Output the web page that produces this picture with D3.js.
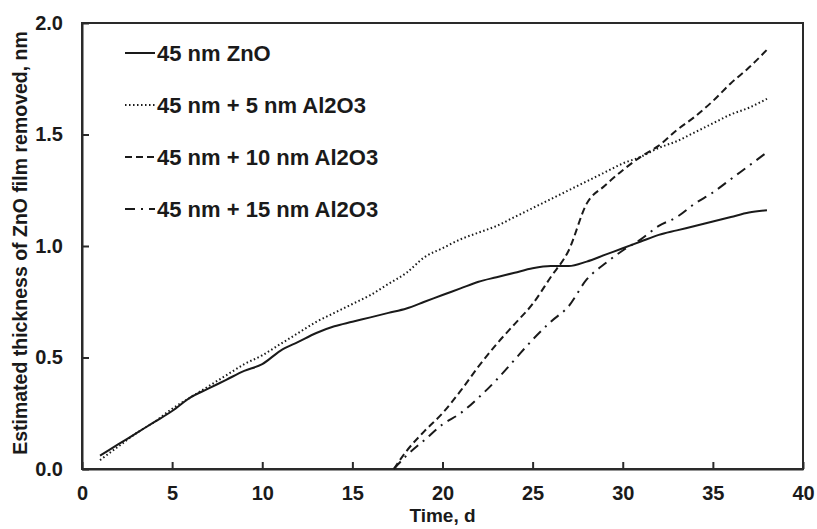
<!DOCTYPE html>
<html lang="en">
<head>
    <title>ZnO film removed</title>
    <script src="https://d3js.org/d3.v7.min.js"></script>
    <style>
        body { margin: 0; background: #fff; }
        text { font-family: "Liberation Sans", Arial, sans-serif; font-weight: bold; fill: #1a1a1a; }
        .axis path, .axis line { stroke: #2a2a2a; stroke-width: 2; }
        .axis text { font-size: 20px; }
        .series { fill: none; stroke: #1a1a1a; stroke-width: 2; }
    </style>
</head>
<body>

<script>
    // days and thickness removed (nm)
    const daysZnO = d3.range(1, 39);
    const znO = [0.06,0.11,0.16,0.21,0.26,0.32,0.36,0.40,0.44,0.47,0.53,0.57,0.61,0.64,0.66,0.68,0.70,0.72,0.75,0.78,
                 0.81,0.84,0.86,0.88,0.90,0.91,0.91,0.93,0.96,0.99,1.02,1.05,1.07,1.09,1.11,1.13,1.15,1.16];
    const al5 = [0.04,0.10,0.16,0.21,0.27,0.32,0.37,0.42,0.47,0.51,0.56,0.61,0.66,0.70,0.74,0.78,0.83,0.88,0.95,0.99,
                 1.03,1.06,1.09,1.13,1.17,1.21,1.25,1.29,1.33,1.37,1.40,1.44,1.47,1.51,1.55,1.59,1.62,1.66];
    const daysLate = [17.3,18,19,20,21,22,23,24,25,26,27,28,29,30,31,32,33,34,35,36,37,38];
    const al10 = [0.0,0.08,0.17,0.25,0.35,0.46,0.56,0.65,0.74,0.86,0.98,1.19,1.27,1.34,1.40,1.45,1.52,1.58,1.65,1.73,1.80,1.88];
    const al15 = [0.0,0.06,0.13,0.20,0.25,0.32,0.40,0.49,0.58,0.66,0.73,0.85,0.92,0.98,1.03,1.09,1.13,1.19,1.24,1.30,1.36,1.42];

    const seriesNames = ["45 nm ZnO", "45 nm + 5 nm Al2O3", "45 nm + 10 nm Al2O3", "45 nm + 15 nm Al2O3"];
    const dashes = [null, "1.5,2.5", "7,4", "10,6,2,6"];
    const xTicks = d3.range(0, 41, 5);
    const yTicks = [0, 0.5, 1.0, 1.5, 2.0];

    const series = [
        daysZnO.map((d, i) => [d, znO[i]]),
        daysZnO.map((d, i) => [d, al5[i]]),
        daysLate.map((d, i) => [d, al10[i]]),
        daysLate.map((d, i) => [d, al15[i]])
    ];

    const svg = d3.select("body").append("svg").attr("width", 817).attr("height", 529);

    const x = d3.scaleLinear().domain([0, 40]).range([82, 803]);
    const y = d3.scaleLinear().domain([0, 2]).range([469, 23]);

    const xAxis = d3.axisBottom(x).tickValues(xTicks).tickSizeInner(-7).tickSizeOuter(0).tickPadding(17);
    const yAxis = d3.axisLeft(y).tickValues(yTicks).tickFormat(d3.format(".1f")).tickSizeInner(-7).tickSizeOuter(0).tickPadding(19);

    svg.append("g").attr("class", "axis").attr("transform", "translate(0,469)").call(xAxis);
    svg.append("g").attr("class", "axis").attr("transform", "translate(82,0)").call(yAxis);

    // frame
    svg.append("rect")
        .attr("x", x(0)).attr("y", y(2))
        .attr("width", x(40) - x(0)).attr("height", y(0) - y(2))
        .attr("fill", "none").attr("stroke", "#2a2a2a").attr("stroke-width", 2);

    const line = d3.line().x(d => x(d[0])).y(d => y(d[1])).curve(d3.curveMonotoneX);

    svg.selectAll(".series")
        .data(series).enter()
        .append("path")
        .attr("class", "series")
        .attr("d", line)
        .attr("stroke-dasharray", (d, i) => dashes[i]);

    // legend
    const leg = svg.append("g").attr("transform", "translate(125,53)");
    seriesNames.forEach((name, i) => {
        const row = leg.append("g").attr("transform", `translate(0,${i * 52})`);
        row.append("line").attr("x1", 0).attr("x2", 30).attr("y1", 0).attr("y2", 0)
            .attr("class", "series").attr("stroke-dasharray", dashes[i]);
        row.append("text").attr("x", 32).attr("dy", "0.36em")
            .style("font-size", "22px").text(name);
    });

    svg.append("text")
        .attr("x", x(20)).attr("y", 522)
        .attr("text-anchor", "middle").style("font-size", "19px")
        .text("Time, d");

    svg.append("text")
        .attr("transform", "translate(27,243) rotate(-90)")
        .attr("text-anchor", "middle").style("font-size", "19.5px")
        .text("Estimated thickness of ZnO film removed, nm");
</script>

</body>
</html>
